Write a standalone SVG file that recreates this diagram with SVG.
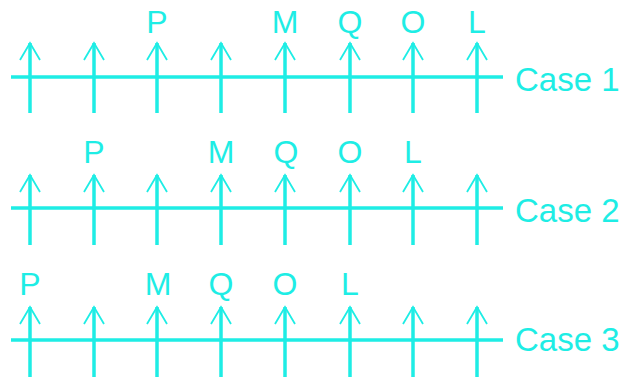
<svg xmlns="http://www.w3.org/2000/svg" width="622" height="378" viewBox="0 0 622 378">
<defs>
<style>
.ax{stroke:#1EEDE5;stroke-width:3.5;fill:none;stroke-linecap:butt}
.sh{stroke:#1EEDE5;stroke-width:3.5;fill:none}
.hd{stroke:#1EEDE5;stroke-width:1.8;fill:none;stroke-linejoin:miter}
.lb{font-family:"Liberation Sans",Arial,sans-serif;font-size:32px;fill:#1EEDE5;text-anchor:middle}
.cs{font-family:"Liberation Sans",Arial,sans-serif;font-size:33px;fill:#1EEDE5}
</style>
<g id="arrow">
<line class="sh" x1="0" y1="0" x2="0" y2="70"/>
<polyline class="hd" points="-10,17 0,0 10,17"/>
</g>
</defs>
<rect width="622" height="378" fill="#ffffff"/>
<g id="connectors">
<line class="ax" x1="11" y1="77" x2="503" y2="77"/>
<line class="ax" x1="11" y1="208" x2="503" y2="208"/>
<line class="ax" x1="11" y1="340" x2="503" y2="340"/>
</g>
<g id="case1">
<use href="#arrow" x="30" y="43"/><use href="#arrow" x="94" y="43"/><use href="#arrow" x="157" y="43"/><use href="#arrow" x="221" y="43"/><use href="#arrow" x="285" y="43"/><use href="#arrow" x="350" y="43"/><use href="#arrow" x="413" y="43"/><use href="#arrow" x="477" y="43"/>
<text class="lb" x="157" y="33">P</text>
<text class="lb" x="285" y="33">M</text>
<text class="lb" x="350" y="33">Q</text>
<text class="lb" x="413" y="33">O</text>
<text class="lb" x="477" y="33">L</text>
<text class="cs" x="515" y="91">Case 1</text>
</g>
<g id="case2">
<use href="#arrow" x="30" y="175"/><use href="#arrow" x="94" y="175"/><use href="#arrow" x="157" y="175"/><use href="#arrow" x="221" y="175"/><use href="#arrow" x="285" y="175"/><use href="#arrow" x="350" y="175"/><use href="#arrow" x="413" y="175"/><use href="#arrow" x="477" y="175"/>
<text class="lb" x="94" y="163">P</text>
<text class="lb" x="221" y="163">M</text>
<text class="lb" x="286" y="163">Q</text>
<text class="lb" x="350" y="163">O</text>
<text class="lb" x="413" y="163">L</text>
<text class="cs" x="515" y="222">Case 2</text>
</g>
<g id="case3">
<use href="#arrow" x="30" y="307"/><use href="#arrow" x="94" y="307"/><use href="#arrow" x="157" y="307"/><use href="#arrow" x="221" y="307"/><use href="#arrow" x="285" y="307"/><use href="#arrow" x="350" y="307"/><use href="#arrow" x="413" y="307"/><use href="#arrow" x="477" y="307"/>
<text class="lb" x="30" y="295">P</text>
<text class="lb" x="158" y="295">M</text>
<text class="lb" x="221" y="295">Q</text>
<text class="lb" x="285" y="295">O</text>
<text class="lb" x="350" y="295">L</text>
<text class="cs" x="515" y="351">Case 3</text>
</g>
</svg>
